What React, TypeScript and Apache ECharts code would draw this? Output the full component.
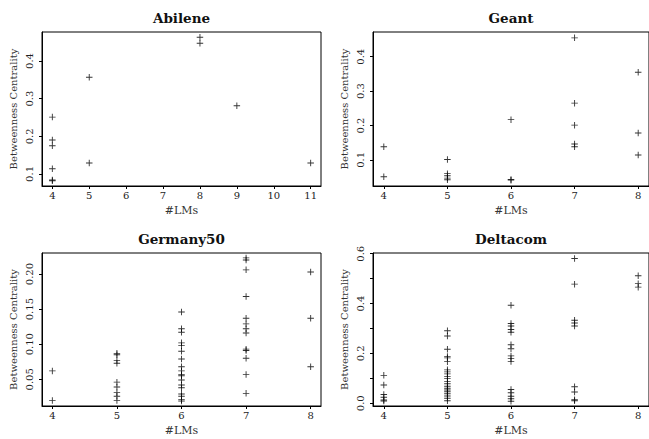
import React, { useEffect, useRef } from "react";
import * as echarts from "echarts";

const titles = ["Abilene", "Geant", "Germany50", "Deltacom"];

const abileneX = [4, 4, 4, 4, 4, 4, 5, 5, 8, 8, 9, 11];
const abileneY = [0.251, 0.19, 0.175, 0.114, 0.084, 0.082, 0.357, 0.129, 0.463, 0.447, 0.281, 0.129];

const geantX = [4, 4, 5, 5, 5, 5, 5, 6, 6, 6, 7, 7, 7, 7, 7, 8, 8, 8];
const geantY = [0.138, 0.051, 0.101, 0.06, 0.054, 0.047, 0.042, 0.217, 0.043, 0.041, 0.455, 0.265, 0.201, 0.146, 0.138, 0.355, 0.178, 0.114];

const germanyX = [
  4, 4,
  5, 5, 5, 5, 5, 5, 5, 5, 5,
  6, 6, 6, 6, 6, 6, 6, 6, 6, 6, 6, 6, 6, 6, 6, 6, 6, 6,
  7, 7, 7, 7, 7, 7, 7, 7, 7, 7, 7, 7, 7,
  8, 8, 8,
];
const germanyY = [
  0.062, 0.02,
  0.087, 0.085, 0.077, 0.073, 0.046, 0.039, 0.031, 0.026, 0.02,
  0.146, 0.122, 0.117, 0.102, 0.098, 0.09, 0.079, 0.068, 0.062, 0.057, 0.055, 0.049, 0.042, 0.038, 0.029, 0.026, 0.021, 0.019,
  0.223, 0.22, 0.206, 0.168, 0.137, 0.129, 0.122, 0.116, 0.093, 0.091, 0.08, 0.057, 0.03,
  0.203, 0.137, 0.068,
];

const deltaX = [
  4, 4, 4, 4, 4, 4,
  5, 5, 5, 5, 5, 5, 5, 5, 5, 5, 5, 5, 5, 5, 5, 5, 5, 5, 5, 5, 5,
  6, 6, 6, 6, 6, 6, 6, 6, 6, 6, 6, 6, 6, 6, 6,
  7, 7, 7, 7, 7, 7, 7, 7, 7,
  8, 8, 8,
];
const deltaY = [
  0.112, 0.073, 0.035, 0.024, 0.013, 0.009,
  0.291, 0.27, 0.217, 0.188, 0.182, 0.167, 0.134, 0.126, 0.118, 0.108, 0.099, 0.088, 0.078, 0.068, 0.06, 0.053, 0.046, 0.038, 0.029, 0.02, 0.01,
  0.393, 0.32, 0.31, 0.296, 0.285, 0.235, 0.219, 0.19, 0.179, 0.168, 0.055, 0.042, 0.028, 0.018, 0.008,
  0.581, 0.478, 0.333, 0.322, 0.31, 0.066, 0.045, 0.014, 0.01,
  0.512, 0.48, 0.466,
];

const xTicksA = [4, 5, 6, 7, 8, 9, 10, 11];
const xTicksB = [4, 5, 6, 7, 8];
const yTicksA = [0.1, 0.2, 0.3, 0.4];
const yTicksG = [0.1, 0.2, 0.3, 0.4];
const yTicksGer = [0.05, 0.1, 0.15, 0.2];
const yTicksDLabels = [0, 0.2, 0.4, 0.6];
const yTicksDMinor = [0, 0.1, 0.2, 0.3, 0.4, 0.5, 0.6];

const FONT = "DejaVu Serif";
const PLUS = "path://M-1,-0.14H-0.14V-1H0.14V-0.14H1V0.14H0.14V1H-0.14V0.14H-1Z";

export default function App() {
  const ref = useRef<HTMLDivElement>(null);
  useEffect(() => {
    document.body.style.margin = "0";
    const chart = echarts.init(ref.current!, null, { renderer: "svg" });

    const grids = [
      { left: 42, top: 32, width: 279, height: 154 },
      { left: 373, top: 32, width: 279, height: 154 },
      { left: 42, top: 253, width: 279, height: 153 },
      { left: 373, top: 253, width: 279, height: 153 },
    ].map((g) => ({ ...g, show: true, borderColor: "#000", borderWidth: 1, backgroundColor: "transparent" }));

    const xRanges = [
      [3.72, 11.28, xTicksA],
      [3.83, 8.17, xTicksB],
      [3.84, 8.16, xTicksB],
      [3.83, 8.17, xTicksB],
    ];
    const yRanges: any[] = [
      [0.068, 0.477, yTicksA, yTicksA, (v: number) => v.toFixed(1)],
      [0.024, 0.472, yTicksG, yTicksG, (v: number) => v.toFixed(1)],
      [0.012, 0.23, yTicksGer, yTicksGer, (v: number) => v.toFixed(2)],
      [-0.011, 0.603, yTicksDLabels, yTicksDMinor, (v: number) => v.toFixed(1)],
    ];

    const xAxis = xRanges.map((r: any, i) => ({
      type: "value",
      gridIndex: i,
      min: r[0],
      max: r[1],
      name: "#LMs",
      nameLocation: "middle",
      nameGap: 19,
      nameTextStyle: { fontFamily: FONT, fontSize: 11, color: "#333" },
      splitLine: { show: false },
      axisLine: { show: true, onZero: false, lineStyle: { color: "#000", width: 1 } },
      axisTick: { show: true, length: 3, lineStyle: { color: "#000" }, customValues: r[2] },
      axisLabel: {
        customValues: r[2],
        fontFamily: FONT,
        fontSize: 10,
        color: "#222",
        margin: 4,
        formatter: (v: number) => String(Math.round(v)),
      },
    }));

    const yAxis = yRanges.map((r: any, i) => ({
      type: "value",
      gridIndex: i,
      min: r[0],
      max: r[1],
      name: "Betweenness Centrality",
      nameLocation: "middle",
      nameGap: 24,
      nameTextStyle: { fontFamily: FONT, fontSize: 10, color: "#333" },
      splitLine: { show: false },
      axisLine: { show: true, onZero: false, lineStyle: { color: "#000", width: 1 } },
      axisTick: { show: true, length: 3, lineStyle: { color: "#000" }, customValues: r[3] },
      axisLabel: {
        customValues: r[2],
        fontFamily: FONT,
        fontSize: 10,
        color: "#222",
        rotate: 90,
        margin: 8,
        formatter: r[4],
      },
    }));

    const sets = [
      [abileneX, abileneY],
      [geantX, geantY],
      [germanyX, germanyY],
      [deltaX, deltaY],
    ];
    const series = sets.map((s, i) => ({
      type: "scatter",
      xAxisIndex: i,
      yAxisIndex: i,
      symbol: PLUS,
      symbolSize: 6.5,
      itemStyle: { color: "#000" },
      data: s[0].map((x, k) => [x, s[1][k]]),
    }));

    const titleGraphics = titles.map((t, i) => ({
      type: "text",
      x: grids[i].left + (i % 2 === 1 ? 276 : 279) / 2,
      y: grids[i].top - 14,
      style: {
        text: t,
        fontFamily: FONT,
        fontWeight: "bold",
        fontSize: 13.5,
        fill: "#111",
        textAlign: "center",
        textVerticalAlign: "middle",
      },
    }));

    chart.setOption({
      animation: false,
      backgroundColor: "#fff",
      grid: grids,
      xAxis,
      yAxis,
      series,
      graphic: titleGraphics,
    });
    return () => chart.dispose();
  }, []);
  return <div ref={ref} style={{ position: "absolute", left: 0, top: 0, width: 649, height: 439 }} />;
}
